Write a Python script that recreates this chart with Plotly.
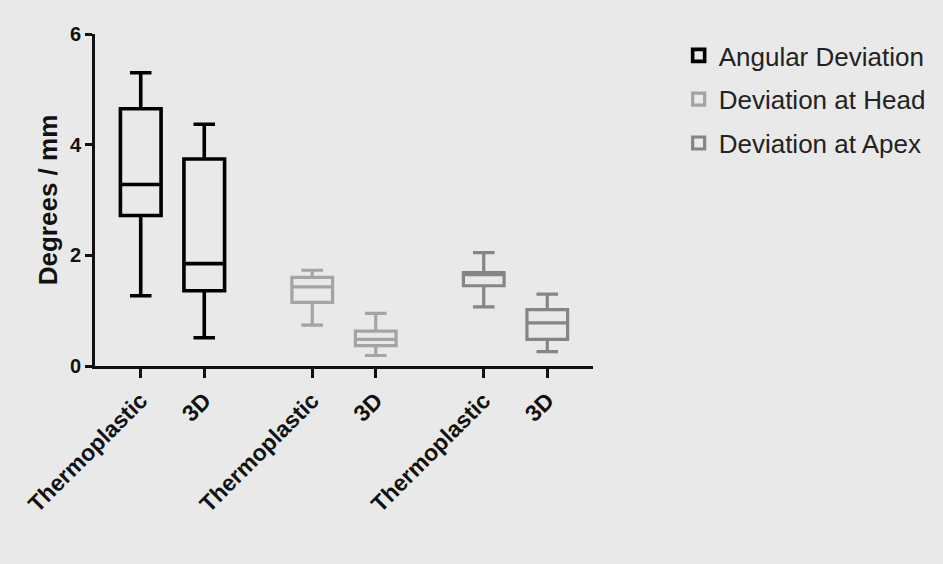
import plotly.graph_objects as go

# ---- data ----
categories = ["Thermoplastic", "3D"]
series = ["Angular Deviation", "Deviation at Head", "Deviation at Apex"]

angular_q1 = [2.72, 1.36]
angular_median = [3.28, 1.85]
angular_q3 = [4.65, 3.74]
angular_low = [1.27, 0.51]
angular_high = [5.30, 4.37]

head_q1 = [1.15, 0.37]
head_median = [1.43, 0.48]
head_q3 = [1.60, 0.63]
head_low = [0.74, 0.19]
head_high = [1.73, 0.95]

apex_q1 = [1.45, 0.48]
apex_median = [1.65, 0.78]
apex_q3 = [1.69, 1.02]
apex_low = [1.07, 0.26]
apex_high = [2.05, 1.30]

y_ticks = [0, 2, 4, 6]

# ---- layout helpers ----
group_step = 2.7
colors = ["#000000", "#a4a4a4", "#858585"]
widths = [3.6, 3.2, 3.2]
stats = [
    (angular_q1, angular_median, angular_q3, angular_low, angular_high),
    (head_q1, head_median, head_q3, head_low, head_high),
    (apex_q1, apex_median, apex_q3, apex_low, apex_high),
]

fig = go.Figure()
tickvals, ticktext = [], []
for g, (name, (q1, med, q3, lo, hi)) in enumerate(zip(series, stats)):
    xs = [g * group_step + i for i in range(len(categories))]
    tickvals += xs
    ticktext += categories
    fig.add_trace(go.Box(
        name=name,
        x=xs,
        q1=q1, median=med, q3=q3, lowerfence=lo, upperfence=hi,
        width=0.64,
        whiskerwidth=0.53,
        line=dict(color=colors[g], width=widths[g]),
        fillcolor="rgba(0,0,0,0)",
        boxpoints=False,
        legendgroup=name,
    ))

bg = "#e9e9e9"
fig.update_layout(
    width=943, height=564,
    margin=dict(l=95, r=348, t=34, b=198),
    paper_bgcolor=bg, plot_bgcolor=bg,
    font=dict(family="Liberation Sans, Arial, sans-serif", color="#111111"),
    showlegend=True,
    legend=dict(
        x=1.172, y=1.006, xanchor="left", yanchor="top",
        font=dict(size=26, color="#222222"),
        bgcolor="rgba(0,0,0,0)",
        traceorder="grouped",
        tracegroupgap=7,
    ),
    xaxis=dict(
        range=[-0.72, 7.12],
        tickmode="array", tickvals=tickvals, ticktext=ticktext,
        tickangle=-45,
        tickfont=dict(size=23, family="Liberation Sans, Arial, sans-serif", color="#111111"),
        ticks="outside", ticklen=9, tickwidth=3, tickcolor="#111111",
        showline=True, linewidth=3, linecolor="#111111",
        showgrid=False, zeroline=False,
    ),
    yaxis=dict(
        range=[0, 6],
        tickmode="array", tickvals=y_ticks,
        tickfont=dict(size=20, color="#111111"),
        ticks="outside", ticklen=7, tickwidth=3, tickcolor="#111111",
        showline=True, linewidth=3, linecolor="#111111",
        showgrid=False, zeroline=False,
        title=dict(text="<b>Degrees / mm</b>", font=dict(size=26, color="#111111"), standoff=5),
    ),
)
fig.update_xaxes(tickfont_weight="bold")
fig.update_yaxes(tickfont_weight="bold")

fig.write_html(
    "out.html",
    config={"displayModeBar": False},
    post_script="document.body.style.margin='0';document.body.style.background='#e9e9e9';",
)
